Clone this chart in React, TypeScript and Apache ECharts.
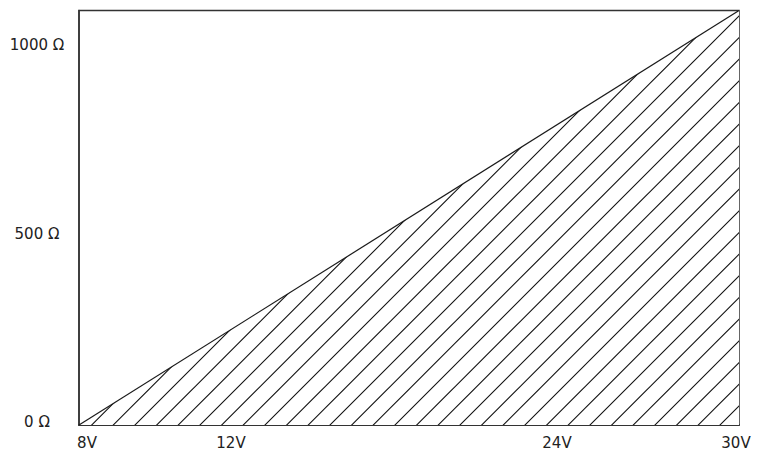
import React, { useEffect, useRef } from "react";
import * as echarts from "echarts";

// Data
const voltageTicks = [8, 12, 24, 30];
const resistanceTicks = [0, 500, 1000];
const lineVoltages = [8, 30];
const lineResistances = [0, 1100];

const TILE = 65;
const PERIOD = TILE / 3;
const OFFSET = 18.33;

function hatchPattern() {
  let d = "";
  for (let k = -1; k <= 6; k++) {
    const c = OFFSET + k * PERIOD;
    d += `M ${-10} ${(c + 10).toFixed(2)} L ${(c + 10).toFixed(2)} ${-10} `;
  }
  const svg = `<svg xmlns="http://www.w3.org/2000/svg" width="${TILE}" height="${TILE}"><rect width="${TILE}" height="${TILE}" fill="#ffffff"/><path d="${d}" stroke="#111111" stroke-width="1.1" fill="none"/></svg>`;
  return "data:image/svg+xml;charset=utf-8," + encodeURIComponent(svg);
}

export default function App() {
  const ref = useRef<HTMLDivElement>(null);
  useEffect(() => {
    if (!ref.current) return;
    const chart = echarts.init(ref.current, null, { renderer: "svg" });
    const font = "DejaVu Sans";
    chart.setOption({
      animation: false,
      backgroundColor: "#ffffff",
      grid: {
        left: 79,
        right: 19,
        top: 10.5,
        bottom: 27,
        show: true,
        borderColor: "#333",
        borderWidth: 1.5,
        backgroundColor: "transparent",
      },
      xAxis: {
        type: "value",
        min: 8,
        max: 30,
        splitLine: { show: false },
        axisTick: { show: false },
        axisLine: { show: true, lineStyle: { color: "#333", width: 2 } },
        axisLabel: {
          customValues: voltageTicks,
          margin: 10,
          fontFamily: font,
          fontSize: 15,
          color: "#222",
          formatter: (v: number) => {
            if (v === 8) return `{a|${v}V}`;
            if (v === 12) return `{b|${v}V}`;
            if (v === 30) return `{c|${v}V}`;
            return `{d|${v}V}`;
          },
          rich: {
            a: { fontFamily: font, fontSize: 15, color: "#222", padding: [0, 0, 0, 16] },
            b: { fontFamily: font, fontSize: 15, color: "#222", padding: [0, 0, 0, 64] },
            c: { fontFamily: font, fontSize: 15, color: "#222", padding: [0, 6, 0, 0] },
            d: { fontFamily: font, fontSize: 15, color: "#222", padding: [0, 4, 0, 0] },
          },
        },
      },
      yAxis: {
        type: "value",
        min: 0,
        max: 1100,
        splitLine: { show: false },
        axisTick: { show: false },
        axisLine: { show: true, lineStyle: { color: "#333", width: 1.5 } },
        axisLabel: {
          customValues: resistanceTicks,
          margin: 42,
          align: "center",
          fontFamily: font,
          fontSize: 15,
          color: "#222",
          formatter: (v: number) => `{a|${v} Ω}`,
          rich: {
            a: { fontFamily: font, fontSize: 15, color: "#222", padding: [0, 0, 6, 0] },
          },
        },
      },
      series: [
        {
          type: "line",
          data: lineVoltages.map((v, i) => [v, lineResistances[i]]),
          symbol: "none",
          lineStyle: { color: "#1a1a1a", width: 1.2 },
          areaStyle: {
            opacity: 1,
            color: {
              image: hatchPattern(),
              repeat: "repeat",
              imageWidth: TILE,
              imageHeight: TILE,
            },
          },
          z: 1,
        },
      ],
    });
    return () => chart.dispose();
  }, []);
  return (
    <div
      ref={ref}
      style={{ position: "fixed", left: 0, top: 0, width: 758, height: 452 }}
    />
  );
}
